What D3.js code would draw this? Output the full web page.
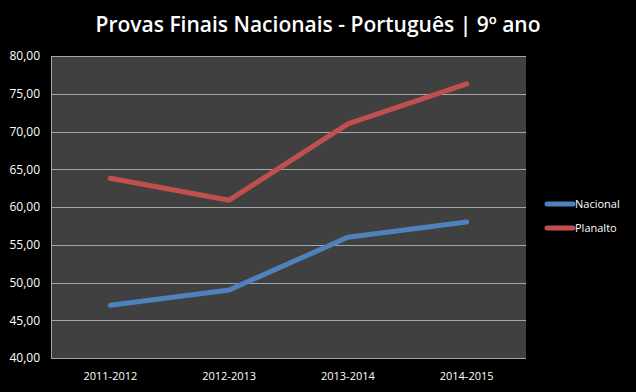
<!DOCTYPE html>
<html lang="pt">
<head>
<meta charset="UTF-8">
<title>Provas Finais Nacionais - Português | 9º ano</title>
<script src="https://cdnjs.cloudflare.com/ajax/libs/d3/7.8.5/d3.min.js"></script>
<style>
  html, body { margin: 0; padding: 0; background: #000; }
  svg { display: block; }
</style>
</head>
<body>
<svg id="chart" width="636" height="392"></svg>
<script>
// dados
var anos = ["2011-2012", "2012-2013", "2013-2014", "2014-2015"];
var nacional = [47.0, 49.0, 56.0, 58.0];
var planalto = [63.8, 60.9, 71.0, 76.3];
var yTicks = [40, 45, 50, 55, 60, 65, 70, 75, 80];

function desenhar() {
  var series = [
    { nome: "Nacional", valores: nacional, cor: "#4f81bd" },
    { nome: "Planalto", valores: planalto, cor: "#c0504d" }
  ];

  var svg = d3.select("#chart");
  var font = "'Open Sans', 'DejaVu Sans', sans-serif";
  var pl = 51, pr = 526, pt = 56, pb = 358;

  svg.append("rect").attr("width", 636).attr("height", 392).attr("fill", "#000");

  // titulo
  svg.append("text")
    .attr("x", 318).attr("y", 32)
    .attr("text-anchor", "middle")
    .attr("font-family", font)
    .attr("font-weight", 600)
    .attr("font-size", 21)
    .attr("fill", "#fff")
    .text("Provas Finais Nacionais - Português | 9º ano");

  var x = d3.scaleBand().domain(anos).range([pl, pr]);
  var y = d3.scaleLinear().domain([40, 80]).range([pb, pt]);

  // area do grafico
  svg.append("rect")
    .attr("x", pl).attr("y", pt)
    .attr("width", pr - pl).attr("height", pb - pt)
    .attr("fill", "#404040");

  // grelha
  svg.append("g").selectAll("line")
    .data(yTicks)
    .enter().append("line")
    .attr("x1", pl).attr("x2", pr)
    .attr("y1", d => Math.round(y(d)) + 0.5).attr("y2", d => Math.round(y(d)) + 0.5)
    .attr("stroke", "#a6a6a6").attr("stroke-width", 1);

  svg.append("line")
    .attr("x1", pl + 0.5).attr("x2", pl + 0.5)
    .attr("y1", pt).attr("y2", pb)
    .attr("stroke", "#a6a6a6");

  // eixo y
  var fmt = d => d3.format(".2f")(d).replace(".", ",");
  var yAxis = svg.append("g")
    .attr("transform", "translate(" + pl + ",0)")
    .call(d3.axisLeft(y).tickValues(yTicks).tickFormat(fmt).tickSize(0).tickPadding(11));
  yAxis.select(".domain").remove();
  yAxis.selectAll("text")
    .attr("fill", "#fff")
    .attr("font-family", font)
    .attr("font-size", 12);

  // eixo x
  var xAxis = svg.append("g")
    .attr("transform", "translate(0," + pb + ")")
    .call(d3.axisBottom(x).tickSize(0).tickPadding(14));
  xAxis.select(".domain").remove();
  xAxis.selectAll("text")
    .attr("fill", "#fff")
    .attr("font-family", font)
    .attr("font-size", 11);

  // linhas
  var line = d3.line()
    .x((d, i) => x(anos[i]) + x.bandwidth() / 2)
    .y(d => y(d));

  svg.append("g").selectAll("path")
    .data(series)
    .enter().append("path")
    .attr("d", d => line(d.valores))
    .attr("fill", "none")
    .attr("stroke", d => d.cor)
    .attr("stroke-width", 5)
    .attr("stroke-linecap", "round")
    .attr("stroke-linejoin", "round");

  // legenda
  var leg = svg.append("g").selectAll("g")
    .data(series)
    .enter().append("g")
    .attr("transform", (d, i) => "translate(547," + (204 + i * 24) + ")");
  leg.append("line")
    .attr("x1", 0).attr("x2", 26)
    .attr("stroke", d => d.cor)
    .attr("stroke-width", 5)
    .attr("stroke-linecap", "round");
  leg.append("text")
    .attr("x", 28).attr("y", 4)
    .attr("fill", "#fff")
    .attr("font-family", font)
    .attr("font-size", 11)
    .text(d => d.nome);
}

desenhar();
</script>
</body>
</html>
